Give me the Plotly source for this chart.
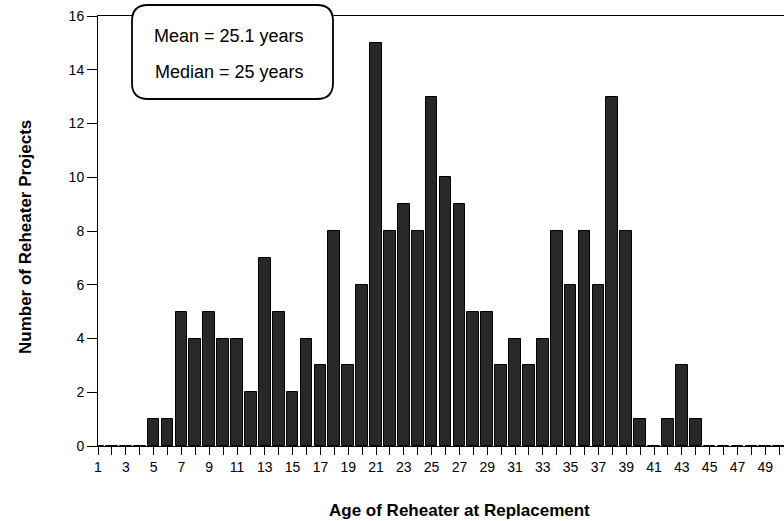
import plotly.graph_objects as go

ages = list(range(1, 51))
counts = [0, 0, 0, 0, 1, 1, 5, 4, 5, 4,
          4, 2, 7, 5, 2, 4, 3, 8, 3, 6,
          15, 8, 9, 8, 13, 10, 9, 5, 5, 3,
          4, 3, 4, 8, 6, 8, 6, 13, 8, 1,
          0, 1, 3, 1, 0, 0, 0, 0, 0, 0]
x_tick_vals = list(range(1, 51))
x_tick_text = [str(v) if v % 2 == 1 else "" for v in x_tick_vals]
y_tick_vals = [0, 2, 4, 6, 8, 10, 12, 14, 16]
stats_text = ["Mean = 25.1 years", "Median = 25 years"]
x_title = "Age of Reheater at Replacement"
y_title = "Number of Reheater Projects"

W, H = 784, 521
L, R, T, B = 98, 0, 16, 75

fig = go.Figure()
fig.add_trace(go.Bar(
    x=ages, y=counts, width=0.84,
    marker=dict(color="#282828", line=dict(color="#000000", width=1)),
))

font = "Liberation Sans, Arial, sans-serif"

fig.update_layout(
    width=W, height=H,
    margin=dict(l=L, r=R, t=T, b=B),
    paper_bgcolor="white", plot_bgcolor="white",
    showlegend=False,
    font=dict(family=font, size=14, color="#000"),
    bargap=0,
)
fig.update_xaxes(
    range=[1, 50.35], tickmode="array", tickvals=x_tick_vals, ticktext=x_tick_text,
    ticks="outside", ticklen=8, tickwidth=1, tickcolor="#000",
    showline=True, linecolor="#000", linewidth=1, mirror=True,
    showgrid=False, zeroline=False, tickfont=dict(size=14),
)
fig.update_yaxes(
    range=[0, 16], tickmode="array", tickvals=y_tick_vals,
    ticks="outside", ticklen=10, tickwidth=1, tickcolor="#000",
    showline=True, linecolor="#000", linewidth=1,
    showgrid=False, zeroline=False, tickfont=dict(size=14),
)

pw, ph = W - L - R, H - T - B
def px(xp): return (xp - L) / pw
def py(yp): return (H - B - yp) / ph

# axis titles
fig.add_annotation(text="<b>%s</b>" % x_title, xref="paper", yref="paper",
                   x=px(459), y=py(510),
                   showarrow=False, font=dict(size=17), xanchor="center", yanchor="middle")
fig.add_annotation(text="<b>%s</b>" % y_title, xref="paper", yref="paper",
                   x=px(25), y=py(237),
                   textangle=-90, showarrow=False, font=dict(size=17),
                   xanchor="center", yanchor="middle")

# rounded box
x0, x1, y0, y1, r = 132, 333, 5, 99, 16
path = (f"M {px(x0 + r)} {py(y0)} L {px(x1 - r)} {py(y0)} "
        f"Q {px(x1)} {py(y0)} {px(x1)} {py(y0 + r)} L {px(x1)} {py(y1 - r)} "
        f"Q {px(x1)} {py(y1)} {px(x1 - r)} {py(y1)} L {px(x0 + r)} {py(y1)} "
        f"Q {px(x0)} {py(y1)} {px(x0)} {py(y1 - r)} L {px(x0)} {py(y0 + r)} "
        f"Q {px(x0)} {py(y0)} {px(x0 + r)} {py(y0)} Z")
fig.add_shape(type="path", path=path, xref="paper", yref="paper",
              line=dict(color="#000", width=1.8), fillcolor="white", layer="above")
for txt, yy in zip(stats_text, [36, 72]):
    fig.add_annotation(text=txt, xref="paper", yref="paper", x=px(229), y=py(yy),
                       showarrow=False, font=dict(size=18), xanchor="center", yanchor="middle")

fig.write_html("out.html", config={"displayModeBar": False},
               post_script="document.body.style.margin='0';document.body.style.padding='0';")
